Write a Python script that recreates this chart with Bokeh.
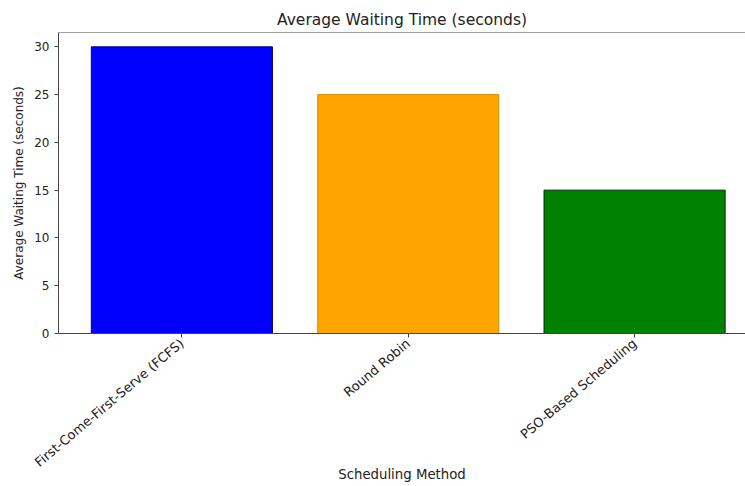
from bokeh.plotting import figure
from bokeh.models import Range1d, FixedTicker, Span, ColumnDataSource
from bokeh.embed import file_html
from bokeh.resources import INLINE

categories = ["First-Come-First-Serve (FCFS)", "Round Robin", "PSO-Based Scheduling"]
waiting_times = [30, 25, 15]
fill_colors = ["#0000FF", "#FFA500", "#008000"]
edge_colors = ["#00006A", "#D88A00", "#002A00"]
y_ticks = [0, 5, 10, 15, 20, 25, 30]

xs = list(range(len(categories)))
src = ColumnDataSource(dict(x=xs, top=waiting_times, fill=fill_colors, edge=edge_colors))

FONT = "DejaVu Sans"
AX = "#444444"

p = figure(width=745, height=486, output_backend="svg", toolbar_location=None,
           x_range=Range1d(-0.545, 2.49), y_range=Range1d(0, 31.5),
           title="Average Waiting Time (seconds)",
           min_border_left=58, min_border_right=0, min_border_top=32, min_border_bottom=153)

p.vbar(x="x", top="top", width=0.8, source=src, fill_color="fill", line_color="edge", line_width=1)

p.title.align = "center"
p.title.text_font = FONT
p.title.text_font_size = "15.5px"
p.title.text_font_style = "normal"
p.title.text_color = "#222222"
p.title.standoff = 7

p.xgrid.visible = False
p.ygrid.visible = False
p.outline_line_color = None
p.background_fill_color = "white"
p.border_fill_color = "white"

p.add_layout(Span(location=31.5, dimension="width", line_color=AX, line_width=1))

xa = p.xaxis[0]
xa.ticker = FixedTicker(ticks=xs)
xa.major_label_overrides = {i: c for i, c in zip(xs, categories)}
xa.major_label_orientation = 0.70
xa.major_label_text_font = FONT
xa.major_label_text_font_size = "13px"
xa.major_label_text_color = "#222222"
xa.major_label_standoff = 4
xa.major_tick_out = 4
xa.major_tick_in = 0
xa.minor_tick_out = 0
xa.minor_tick_in = 0
xa.axis_line_color = AX
xa.major_tick_line_color = AX
xa.axis_label = "Scheduling Method"
xa.axis_label_text_font = FONT
xa.axis_label_text_font_size = "13.3px"
xa.axis_label_text_font_style = "normal"
xa.axis_label_text_color = "#222222"
xa.axis_label_text_line_height = 1.0
xa.axis_label_standoff = -11

ya = p.yaxis[0]
ya.ticker = FixedTicker(ticks=y_ticks)
ya.major_label_text_font = FONT
ya.major_label_text_font_size = "12px"
ya.major_label_text_color = "#222222"
ya.major_label_standoff = 5
ya.major_tick_out = 4
ya.major_tick_in = 0
ya.minor_tick_out = 0
ya.minor_tick_in = 0
ya.axis_line_color = AX
ya.major_tick_line_color = AX
ya.axis_label = "Average Waiting Time (seconds)"
ya.axis_label_text_font = FONT
ya.axis_label_text_font_size = "12px"
ya.axis_label_text_font_style = "normal"
ya.axis_label_text_color = "#222222"
ya.axis_label_standoff = 5

open("out.html", "w").write(file_html(p, INLINE))
